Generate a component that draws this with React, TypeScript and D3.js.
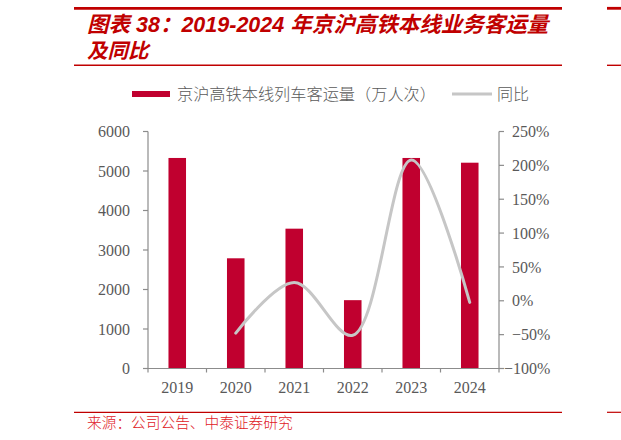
import React from "react";
import * as d3 from "d3";

const years = ["2019", "2020", "2021", "2022", "2023", "2024"];
const volume = [5330, 2790, 3540, 1730, 5330, 5210];
const yoyYears = ["2020", "2021", "2022", "2023", "2024"];
const yoy = [-0.477, 0.27, -0.51, 2.08, -0.023];
const leftTicks = [0, 1000, 2000, 3000, 4000, 5000, 6000];
const rightTicks = [-1, -0.5, 0, 0.5, 1, 1.5, 2, 2.5];

const titleLine1 = "图表 38：2019-2024 年京沪高铁本线业务客运量";
const titleLine2 = "及同比";
const legendBar = "京沪高铁本线列车客运量（万人次）";
const legendLine = "同比";
const source = "来源：公司公告、中泰证券研究";

const W = 621;
const H = 440;
const plot = { left: 148, right: 499, top: 131.5, bottom: 368.5 };

const RED = "#C00000";
const BAR = "#C0002F";
const AXIS = "#8C8C8C";
const TXT = "#595959";
const LINE = "#C6C6C6";
const serif = "'Liberation Serif', 'DejaVu Serif', serif";
const cjk = "'Noto Sans CJK SC', sans-serif";

export default function App() {
  const x = d3.scaleBand<string>().domain(years).range([plot.left, plot.right]).paddingInner(0.7).paddingOuter(0.35);
  const band = d3.scaleBand<string>().domain(years).range([plot.left, plot.right]);
  const yL = d3.scaleLinear().domain([0, 6000]).range([plot.bottom, plot.top]);
  const yR = d3.scaleLinear().domain([-1, 2.5]).range([plot.bottom, plot.top]);

  const lineGen = d3
    .line<number>()
    .x((_, i) => (band(yoyYears[i]) as number) + band.bandwidth() / 2)
    .y((d) => yR(d))
    .curve(d3.curveCatmullRom.alpha(0.5));

  const boundaries = years.map((y) => band(y) as number).concat([plot.right]);

  return (
    <svg width={W} height={H} style={{ position: "absolute", left: 0, top: 0, background: "#fff" }}>
      {/* header rules */}
      <line x1={74} x2={562} y1={8.3} y2={8.3} stroke={RED} strokeWidth={2.8} />
      <line x1={607} x2={621} y1={8.3} y2={8.3} stroke={RED} strokeWidth={2.8} />
      <line x1={74} x2={562} y1={65.3} y2={65.3} stroke={RED} strokeWidth={1.4} />
      <line x1={607} x2={621} y1={65.3} y2={65.3} stroke={RED} strokeWidth={1.4} />
      <line x1={74} x2={562} y1={412.3} y2={412.3} stroke={RED} strokeWidth={1.2} />
      <line x1={607} x2={621} y1={412.3} y2={412.3} stroke={RED} strokeWidth={1.2} />

      <text x={87} y={32} fill={RED} fontSize={21.5} fontWeight="bold" fontStyle="italic" fontFamily={`'Liberation Sans', ${cjk}`}>
        {titleLine1}
      </text>
      <text x={87} y={58} fill={RED} fontSize={20.5} fontWeight="bold" fontStyle="italic" fontFamily={`'Liberation Sans', ${cjk}`}>
        {titleLine2}
      </text>

      {/* legend */}
      <rect x={132} y={91} width={38} height={6} fill={BAR} />
      <text x={177} y={94} dy="0.36em" fill={TXT} fontSize={16.2} fontFamily={cjk} fontWeight={300}>
        {legendBar}
      </text>
      <line x1={452} x2={492} y1={94} y2={94} stroke={LINE} strokeWidth={3} />
      <text x={497} y={94} dy="0.36em" fill={TXT} fontSize={16} fontFamily={cjk} fontWeight={300}>
        {legendLine}
      </text>

      {/* bars */}
      {years.map((yr, i) => (
        <rect key={yr} x={x(yr)} y={yL(volume[i])} width={x.bandwidth()} height={yL(0) - yL(volume[i])} fill={BAR} />
      ))}

      {/* line */}
      <path d={lineGen(yoy) || ""} fill="none" stroke={LINE} strokeWidth={3} strokeLinecap="round" />

      {/* left axis */}
      <line x1={plot.left} x2={plot.left} y1={plot.top} y2={plot.bottom} stroke={AXIS} strokeWidth={1.2} />
      {leftTicks.map((t) => (
        <g key={t}>
          <line x1={plot.left - 5} x2={plot.left} y1={yL(t)} y2={yL(t)} stroke={AXIS} strokeWidth={1.2} />
          <text x={130} y={yL(t)} dy="0.35em" textAnchor="end" fill={TXT} fontSize={16} fontFamily={serif}>
            {t}
          </text>
        </g>
      ))}

      {/* right axis */}
      <line x1={plot.right} x2={plot.right} y1={plot.top} y2={plot.bottom} stroke={AXIS} strokeWidth={1.2} />
      {rightTicks.map((t) => (
        <g key={t}>
          <line x1={plot.right} x2={plot.right + 5} y1={yR(t)} y2={yR(t)} stroke={AXIS} strokeWidth={1.2} />
          <text x={t <= -1 ? 504 : 512} y={yR(t)} dy="0.35em" textAnchor="start" fill={TXT} fontSize={16} fontFamily={serif}>
            {d3.format(".0%")(t)}
          </text>
        </g>
      ))}

      {/* x axis */}
      <line x1={plot.left - 5} x2={plot.right + 4} y1={plot.bottom} y2={plot.bottom} stroke={AXIS} strokeWidth={1.2} />
      {boundaries.map((b, i) => (
        <line key={i} x1={b} x2={b} y1={plot.bottom} y2={plot.bottom + 4} stroke={AXIS} strokeWidth={1.2} />
      ))}
      {years.map((yr) => (
        <text key={yr} x={(band(yr) as number) + band.bandwidth() / 2} y={393} textAnchor="middle" fill={TXT} fontSize={16} fontFamily={serif}>
          {yr}
        </text>
      ))}

      <text x={87} y={428} fill="#E0201E" fontSize={14.7} fontFamily={cjk} fontWeight={300}>
        {source}
      </text>
    </svg>
  );
}
